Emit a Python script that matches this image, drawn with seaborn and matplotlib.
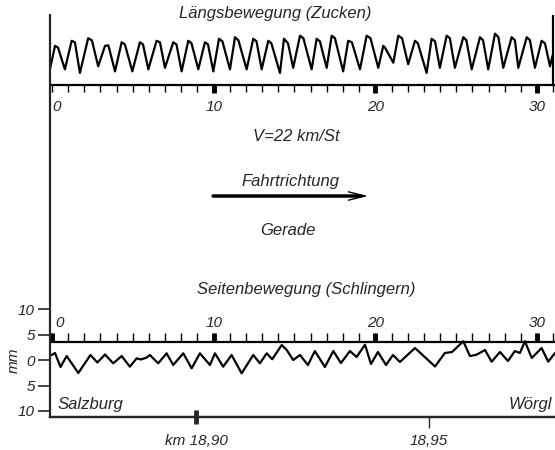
import numpy as np
import matplotlib
matplotlib.use('Agg')
import matplotlib.pyplot as plt
import seaborn as sns

sns.set_style('white')
plt.rcParams['font.family'] = ['Liberation Sans', 'DejaVu Sans']
plt.rcParams['font.style'] = 'italic'

# Längsbewegung (Zucken): time and amplitude above the upper time axis
t_laengs = [-0.12, 0.19, 0.37, 0.80, 1.22, 1.42, 1.73, 2.24, 2.47, 2.86,
            3.28, 3.49, 3.90, 4.31, 4.51, 4.97, 5.44, 5.63, 5.96, 6.47,
            6.68, 6.99, 7.50, 7.70, 8.02, 8.43, 8.63, 9.05, 9.46, 9.65,
            9.98, 10.33, 10.54, 11.01, 11.32, 11.53, 12.04, 12.45, 12.65, 12.97,
            13.38, 13.57, 14.10, 14.35, 14.60, 14.92, 15.34, 15.55, 16.06, 16.37,
            16.57, 16.99, 17.30, 17.50, 18.01, 18.32, 18.55, 19.05, 19.46, 19.70,
            20.18, 20.49, 20.59, 21.11, 21.42, 21.65, 22.03, 22.45, 22.63, 23.17,
            23.48, 23.69, 23.99, 24.41, 24.61, 24.92, 25.44, 25.63, 25.96, 26.47,
            26.66, 26.98, 27.40, 27.61, 27.91, 28.43, 28.63, 28.84, 29.36, 29.56,
            29.87, 30.28, 30.49, 30.80, 30.98]
a_laengs = [3.2, 7.7, 7.4, 3.1, 8.7, 8.4, 2.4, 9.2, 8.8, 3.7,
            7.7, 7.8, 2.7, 8.4, 8.0, 2.7, 8.4, 8.0, 3.1, 8.7,
            8.4, 3.4, 8.4, 8.0, 2.7, 8.7, 8.2, 3.1, 8.4, 8.0,
            2.7, 9.1, 8.6, 3.1, 9.4, 8.8, 3.1, 9.1, 8.6, 3.1,
            8.7, 8.2, 2.4, 9.1, 8.2, 3.4, 9.7, 9.2, 3.1, 9.1,
            8.6, 3.4, 9.7, 9.2, 2.7, 8.7, 8.4, 3.1, 9.7, 9.2,
            3.4, 7.7, 7.4, 4.4, 9.7, 9.2, 4.1, 8.7, 8.2, 2.4,
            9.1, 8.6, 3.4, 9.7, 9.2, 3.4, 9.4, 8.8, 3.1, 9.4,
            8.8, 3.1, 10.1, 9.4, 3.4, 9.4, 8.8, 3.4, 9.4, 8.8,
            3.4, 8.7, 8.2, 3.7, 6.0]

# Seitenbewegung (Schlingern): time and lateral displacement in mm
t_seiten = [-0.02, 0.19, 0.53, 0.91, 1.63, 2.38, 2.81, 3.28, 3.79, 4.31,
            4.82, 5.24, 5.50, 5.86, 6.06, 6.57, 7.09, 7.50, 8.12, 8.64,
            9.15, 9.77, 10.08, 10.59, 11.11, 11.73, 12.45, 12.86, 13.28, 13.62,
            14.21, 14.52, 14.92, 15.34, 15.83, 16.26, 16.88, 17.40, 17.87, 18.43,
            18.84, 19.36, 19.73, 20.16, 20.66, 21.09, 21.52, 22.45, 23.69, 24.30,
            24.74, 25.44, 25.85, 26.26, 26.78, 27.19, 27.71, 28.20, 28.63, 28.94,
            29.25, 29.67, 30.28, 30.69, 31.11]
a_seiten = [0.98, 1.37, -1.37, 0.78, -2.55, 0.98, -0.49, 1.08, -0.65, 0.78,
            -1.31, 0.33, 0.10, 0.49, 0.98, -0.65, 1.31, -0.98, 1.31, -1.63,
            1.31, -0.98, 1.31, -1.31, 0.98, -2.61, 0.98, -0.65, 1.31, 0.14,
            2.94, 1.96, 0.0, 0.98, -0.98, 1.76, -1.37, 1.76, -0.59, 1.76,
            0.59, 3.0, -0.78, 1.57, -0.98, 0.98, -0.39, 2.35, -1.27, 1.37,
            1.57, 3.67, 0.78, 1.04, 1.96, -0.33, 1.57, -0.20, 1.76, 1.37,
            3.67, 0.39, 2.35, -0.33, 1.37]

time_ticks = list(range(0, 32))
time_major = [0, 10, 20, 30]
mm_ticks = [-10, -5, 0, 5, 10]
mm_labels = ['10', '5', '0', '5', '10']
km_ticks = [18.90, 18.95]
km_labels = ['km 18,90', '18,95']

BASE_TOP = 53.9   # upper time axis, on the mm scale
BASE_LOW = 3.5    # lower time axis


def t2km(t):
    return 18.90 + (np.asarray(t) - 8.905) * 0.05 / 14.41


def km2t(k):
    return 8.905 + (np.asarray(k) - 18.90) * 14.41 / 0.05


fig = plt.figure(figsize=(5.55, 4.5), dpi=100)
ax = fig.add_axes([0.0901, 0.0733, 0.9099, 0.8933])

sns.lineplot(x=t_laengs, y=np.array(a_laengs) + BASE_TOP, ax=ax,
             color='black', lw=1.6, estimator=None)
sns.lineplot(x=t_seiten, y=a_seiten, ax=ax,
             color='black', lw=1.6, estimator=None)

ax.set_xlim(-0.12, 31.11)
ax.set_ylim(-11.18, 67.65)

# time axes
ax.axhline(BASE_TOP, color='black', lw=1.6)
ax.vlines(time_ticks, BASE_TOP - 1.4, BASE_TOP, color='black', lw=1)
ax.vlines(time_major[1:], BASE_TOP - 1.6, BASE_TOP + 0.3, color='black', lw=3.5)
ax.axhline(BASE_LOW, color='black', lw=1.6)
ax.vlines(time_ticks, BASE_LOW, BASE_LOW + 1.8, color='black', lw=1)
ax.vlines(time_major, BASE_LOW, BASE_LOW + 1.7, color='black', lw=3.5)
for t in time_major:
    ax.text(t, BASE_TOP - 4.3, str(t), ha='left' if t == 0 else 'center',
            va='center', fontsize=11)
    ax.text(t + (0.2 if t == 0 else 0), BASE_LOW + 3.7, str(t),
            ha='left' if t == 0 else 'center', va='center', fontsize=11)
ax.axvline(30.98, ymin=0.8256, ymax=1, color='black', lw=1.6)

# spines / mm axis
sns.despine(ax=ax, top=True, right=True)
ax.spines['left'].set_linewidth(1.6)
ax.spines['bottom'].set_linewidth(1.6)
ax.set_xticks([])
ax.set_yticks(mm_ticks, mm_labels)
ax.tick_params(axis='y', direction='out', length=9, width=1.2, pad=2,
               labelsize=11, left=True)
ax.set_ylabel('mm', fontsize=11, va='center')
ax.yaxis.set_label_coords(-0.072, 0.142)
ax.set_xlabel('')

# km axis
sec = ax.secondary_xaxis('bottom', functions=(t2km, km2t))
sec.set_xticks(km_ticks, km_labels)
sec.tick_params(direction='out', length=8, width=1, pad=4, labelsize=11)
sec.spines['bottom'].set_linewidth(1.6)
kt = sec.xaxis.get_major_ticks()
kt[0].tick1line.set_marker('|')
kt[0].tick1line.set_markersize(9.5)
kt[0].tick1line.set_markeredgewidth(3.5)

# texts
fig.text(0.4955, 0.9711, 'Längsbewegung (Zucken)', ha='center', va='center', fontsize=12)
fig.text(0.5333, 0.6956, 'V=22 km/St', ha='center', va='center', fontsize=12)
fig.text(0.5225, 0.5956, 'Fahrtrichtung', ha='center', va='center', fontsize=12)
fig.text(0.5189, 0.4867, 'Gerade', ha='center', va='center', fontsize=12)
fig.text(0.5514, 0.3556, 'Seitenbewegung (Schlingern)', ha='center', va='center', fontsize=12)
fig.text(0.1045, 0.10, 'Salzburg', ha='left', va='center', fontsize=12)
fig.text(0.9946, 0.10, 'Wörgl', ha='right', va='center', fontsize=12)

# direction arrow
ax.annotate('', xy=(0.650, 0.5644), xytext=(0.384, 0.5644),
            xycoords='figure fraction', textcoords='figure fraction',
            arrowprops=dict(arrowstyle='-', lw=2.5, color='black',
                            shrinkA=0, shrinkB=0))
ax.annotate('', xy=(0.663, 0.5644), xytext=(0.60, 0.5644),
            xycoords='figure fraction', textcoords='figure fraction',
            arrowprops=dict(arrowstyle='->,head_length=1.2,head_width=0.3',
                            lw=1.0, color='black', shrinkA=0, shrinkB=0))

fig.savefig('out.png', dpi=100)
